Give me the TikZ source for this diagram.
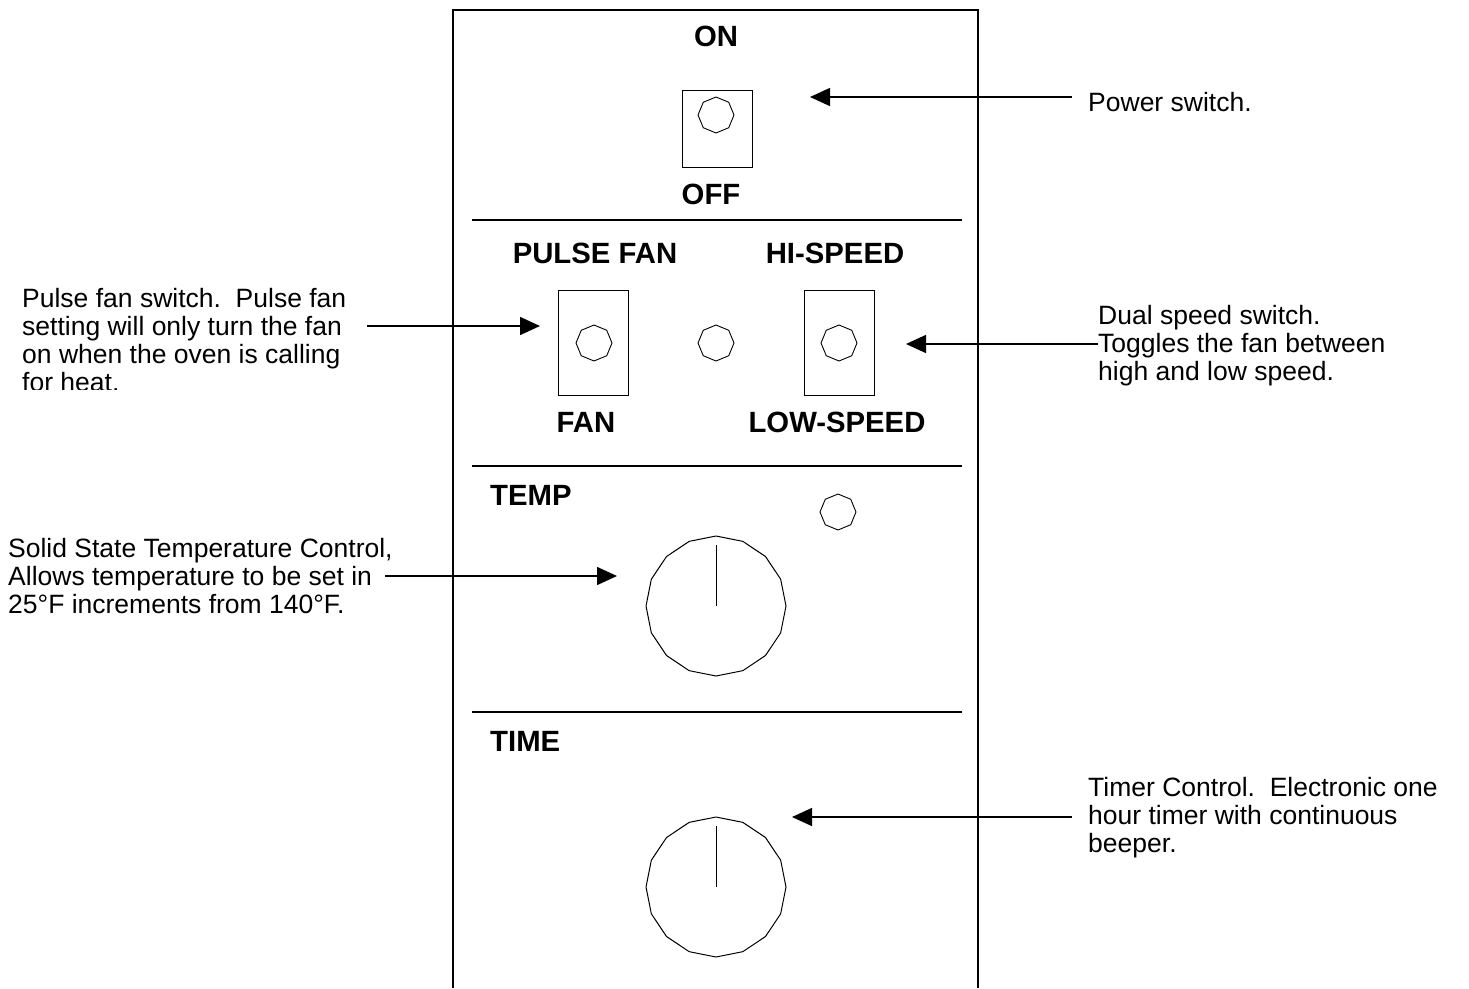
\documentclass[tikz,border=0pt]{standalone}
\usepackage{fontspec}
\setmainfont{Liberation Sans}
\usetikzlibrary{shapes.geometric, arrows.meta}
\definecolor{cInk}{RGB}{0,0,0}
\tikzset{
	panelline/.style={line width=1.2pt, draw=cInk},
	switchbox/.style={rectangle, draw=cInk, line width=1pt, minimum width=70pt, inner sep=0pt},
	lamp/.style={regular polygon, regular polygon sides=8, rotate=22.5, draw=cInk, line width=0.9pt, minimum size=36pt, inner sep=0pt},
	knob/.style={regular polygon, regular polygon sides=16, rotate=11.25, draw=cInk, line width=1pt, minimum size=140pt, inner sep=0pt},
	panellabel/.style={font=\fontsize{29.3}{32}\selectfont\bfseries, inner sep=0pt, anchor=base},
	note/.style={font=\fontsize{26.5}{28}\selectfont, align=left, inner sep=0pt, anchor=north west},
	flowarrow/.style={-{Triangle[length=20pt, width=18pt]}, line width=1.5pt},
}

\begin{document}
\begin{tikzpicture}[x=1pt, y=-1pt]
	\useasboundingbox (0,0) rectangle (1469,988);
	% front panel outline, open at the bottom
	\draw[panelline] (453,988) -- (453,10) -- (978,10) -- (978,988);
	\foreach \yy in {220, 466, 712} {
		\draw[panelline] (472,\yy) -- (962,\yy);
	}

	% power switch
	\node[panellabel] (onlab) at (716,46) {ON};
	\node[switchbox, minimum height=77pt] (pwrbox) at (717,128.5) {};
	\node[lamp] (pwrlamp) at (716,115) {};
	\node[panellabel] (offlab) at (711,204) {OFF};

	% fan switches
	\node[panellabel] (pulselab) at (595,263) {PULSE FAN};
	\node[panellabel] (hilab) at (835,263) {HI-SPEED};
	\node[switchbox, minimum height=105pt] (pulsebox) at (593,342.5) {};
	\node[switchbox, minimum height=105pt] (speedbox) at (839,342.5) {};
	\node[lamp] (pulselamp) at (594,343) {};
	\node[lamp] (midlamp) at (716,343) {};
	\node[lamp] (speedlamp) at (839,343) {};
	\node[panellabel] (fanlab) at (586,432) {FAN};
	\node[panellabel] (lowlab) at (837,432) {LOW-SPEED};

	% temperature
	\node[panellabel, anchor=base west] (templab) at (490,505) {TEMP};
	\node[lamp] (templamp) at (838,512) {};
	\node[knob] (tempknob) at (716,606) {};
	\draw[line width=1pt] (tempknob.center) -- ++(0,-61);

	% timer
	\node[panellabel, anchor=base west] (timelab) at (490,751) {TIME};
	\node[knob] (timeknob) at (716,887) {};
	\draw[line width=1pt] (timeknob.center) -- ++(0,-61);

	% notes
	\node[note] (pwrnote) at (1088,92.5) {Power switch.};
	\begin{scope}
		\clip (0,0) rectangle (440,389);
		\node[note] (pulsenote) at (22,288) {Pulse fan switch.\ \ Pulse fan\\setting will only turn the fan\\on when the oven is calling\\for heat.};
	\end{scope}
	\node[note] (speednote) at (1098,305.5) {Dual speed switch.\\Toggles the fan between\\high and low speed.};
	\node[note] (tempnote) at (8,538.5) {Solid State Temperature Control,\\Allows temperature to be set in\\25°F increments from 140°F.};
	\node[note] (timenote) at (1088,777.5) {Timer Control.\ \ Electronic one\\hour timer with continuous\\beeper.};

	% arrows
	\coordinate (pwrtail) at (1072,97);
	\coordinate (pwrtip) at (810,97);
	\coordinate (pulsetail) at (367,326);
	\coordinate (pulsetip) at (540,326);
	\coordinate (speedtail) at (1098,344);
	\coordinate (speedtip) at (906,344);
	\coordinate (temptail) at (385,576);
	\coordinate (temptip) at (617,576);
	\coordinate (timetail) at (1072,817);
	\coordinate (timetip) at (792,817);
	\draw[flowarrow] (pwrtail) -- (pwrtip);
	\draw[flowarrow] (pulsetail) -- (pulsetip);
	\draw[flowarrow] (speedtail) -- (speedtip);
	\draw[flowarrow] (temptail) -- (temptip);
	\draw[flowarrow] (timetail) -- (timetip);
\end{tikzpicture}
\end{document}
